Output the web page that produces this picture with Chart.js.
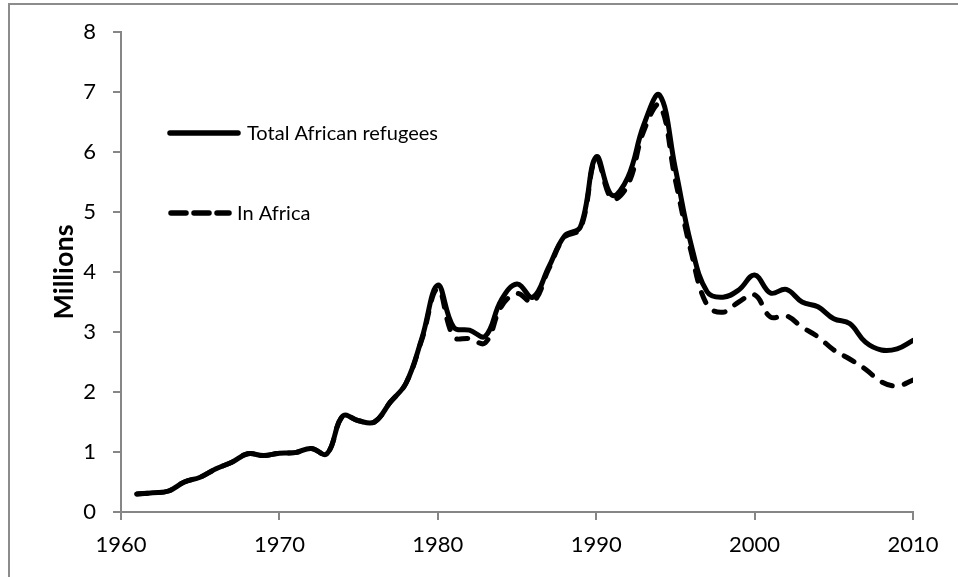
<!DOCTYPE html>
<html>
<head>
<meta charset="utf-8">
<script src="https://cdn.jsdelivr.net/npm/chart.js@4/dist/chart.umd.min.js"></script>
<style>
  html, body { margin: 0; padding: 0; background: #fff; }
  #wrap { position: relative; width: 958px; height: 577px; }
  #frame { position: absolute; left: 8px; top: 3px; width: 958px; height: 600px;
           border-left: 2px solid #8c8c8c; border-top: 2px solid #8c8c8c; box-sizing: border-box; }
  canvas { position: absolute; left: 0; top: 0; }
</style>
</head>
<body>
<div id="wrap">
  <div id="frame"></div>
  <canvas id="refugee-chart" width="958" height="577"></canvas>
</div>
<script>
// Năm (trục hoành)
const years = [1961, 1962, 1963, 1964, 1965, 1966, 1967, 1968, 1969, 1970,
               1971, 1972, 1973, 1974, 1975, 1976, 1977, 1978, 1979, 1980,
               1981, 1982, 1983, 1984, 1985, 1986, 1987, 1988, 1989, 1990,
               1991, 1992, 1993, 1994, 1995, 1996, 1997, 1998, 1999, 2000,
               2001, 2002, 2003, 2004, 2005, 2006, 2007, 2008, 2009, 2010];

// Tổng số người tị nạn châu Phi (triệu)
const totalRefugees = [0.30, 0.32, 0.35, 0.50, 0.58, 0.72, 0.83, 0.97, 0.94, 0.98,
                       0.99, 1.06, 0.97, 1.60, 1.52, 1.50, 1.83, 2.15, 2.90, 3.78,
                       3.08, 3.03, 2.93, 3.53, 3.80, 3.58, 4.08, 4.60, 4.75, 5.92,
                       5.28, 5.58, 6.45, 6.95, 5.72, 4.45, 3.67, 3.58, 3.70, 3.95,
                       3.65, 3.71, 3.50, 3.42, 3.22, 3.14, 2.83, 2.70, 2.72, 2.86];

// Số người tị nạn ở lại trong châu Phi (triệu)
const inAfrica = [0.30, 0.32, 0.35, 0.50, 0.58, 0.72, 0.83, 0.97, 0.94, 0.98,
                  0.99, 1.06, 0.97, 1.60, 1.52, 1.50, 1.83, 2.15, 2.88, 3.72,
                  2.92, 2.89, 2.82, 3.42, 3.64, 3.50, 4.05, 4.58, 4.72, 5.88,
                  5.22, 5.45, 6.35, 6.78, 5.53, 4.33, 3.45, 3.33, 3.50, 3.62,
                  3.25, 3.27, 3.08, 2.92, 2.70, 2.55, 2.38, 2.17, 2.10, 2.20];

const seriesNames = ['Total African refugees', 'In Africa'];
const xTicks = [1960, 1970, 1980, 1990, 2000, 2010];
const yTicks = [0, 1, 2, 3, 4, 5, 6, 7, 8];

const axisGray = '#868686';
const fontFamily = 'Lato, "Open Sans", sans-serif';

// Chú thích vẽ bên trong vùng biểu đồ
const inlineLegend = {
    id: 'inlineLegend',
    afterDatasetsDraw(chart) {
        const ctx = chart.ctx;
        const rows = [
            { y: 133, x0: 170, x1: 238, dash: [], textX: 247 },
            { y: 213, x0: 171, x1: 229, dash: [15, 8], textX: 237 }
        ];
        ctx.save();
        rows.forEach((r, i) => {
            ctx.beginPath();
            ctx.lineWidth = 5.5;
            ctx.lineCap = 'round';
            ctx.strokeStyle = '#000';
            ctx.setLineDash(r.dash);
            ctx.moveTo(r.x0, r.y);
            ctx.lineTo(r.x1, r.y);
            ctx.stroke();
            ctx.setLineDash([]);
            ctx.fillStyle = '#000';
            ctx.font = '20px ' + fontFamily;
            ctx.textBaseline = 'middle';
            ctx.textAlign = 'left';
            ctx.fillText(seriesNames[i], r.textX, r.y + 1);
        });
        ctx.restore();
    }
};

const ctx = document.getElementById('refugee-chart').getContext('2d');
const chart = new Chart(ctx, {
    type: 'line',
    data: {
        datasets: [{
            label: seriesNames[0],
            data: years.map((y, i) => ({ x: y, y: totalRefugees[i] })),
            borderColor: '#000',
            borderWidth: 5,
            tension: 0.4,
            pointRadius: 0,
            borderCapStyle: 'round',
            borderJoinStyle: 'round'
        }, {
            label: seriesNames[1],
            data: years.map((y, i) => ({ x: y, y: inAfrica[i] })),
            borderColor: '#000',
            borderWidth: 5,
            borderDash: [11, 12],
            tension: 0.4,
            pointRadius: 0,
            borderCapStyle: 'round',
            borderJoinStyle: 'round'
        }]
    },
    options: {
        responsive: false,
        animation: false,
        layout: { padding: { top: 32, right: 45, bottom: 0, left: 0 } },
        plugins: {
            legend: { display: false },
            tooltip: { enabled: false }
        },
        scales: {
            x: {
                type: 'linear',
                min: 1960,
                max: 2010,
                afterFit: s => { s.height = 65; },
                afterBuildTicks: s => { s.ticks = xTicks.map(v => ({ value: v })); },
                ticks: {
                    callback: v => String(v),
                    color: '#000',
                    font: { family: fontFamily, size: 22 },
                    padding: 12,
                    maxRotation: 0
                },
                grid: { drawOnChartArea: false, drawTicks: true, tickLength: 8, color: axisGray, lineWidth: 2 },
                border: { color: axisGray, width: 2 }
            },
            y: {
                min: 0,
                max: 8,
                afterFit: s => { s.width = 121; },
                afterBuildTicks: s => { s.ticks = yTicks.map(v => ({ value: v })); },
                ticks: {
                    color: '#000',
                    font: { family: fontFamily, size: 22 },
                    padding: 17
                },
                grid: { drawOnChartArea: false, drawTicks: true, tickLength: 8, color: axisGray, lineWidth: 2 },
                border: { color: axisGray, width: 2 },
                title: {
                    display: true,
                    text: 'Millions',
                    color: '#000',
                    font: { family: fontFamily, size: 27, weight: 'bold' },
                    padding: { top: 48, bottom: 0 }
                }
            }
        }
    },
    plugins: [inlineLegend]
});
</script>
</body>
</html>
